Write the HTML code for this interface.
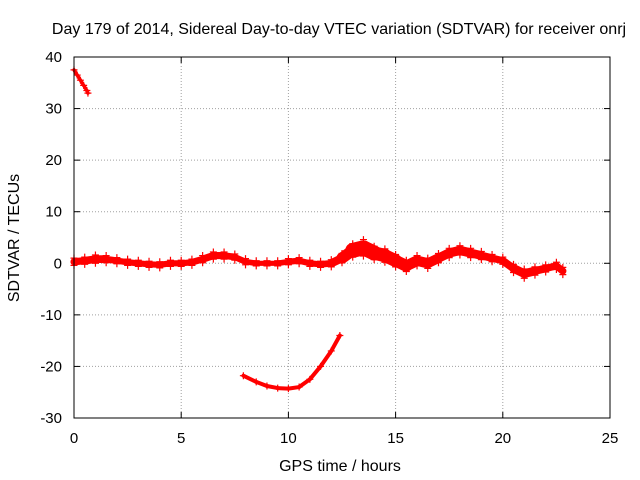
<!DOCTYPE html>
<html><head><meta charset="utf-8"><style>
body{margin:0;background:#fff}
svg{display:block;font-family:"Liberation Sans",sans-serif}
</style></head><body>
<svg id="chart" width="640" height="480">
<text x="339" y="34" font-size="16" text-anchor="middle">Day 179 of 2014, Sidereal Day-to-day VTEC variation (SDTVAR) for receiver onrj</text>
<text x="340" y="471" font-size="16" text-anchor="middle">GPS time / hours</text>
<text transform="translate(19,238) rotate(-90)" font-size="16" text-anchor="middle">SDTVAR / TECUs</text>
<g id="grid"></g>
<g id="ticks"></g>
<g id="series"></g>
<rect x="74" y="57" width="536" height="361" fill="none" stroke="#000" stroke-width="1"/>
</svg>
<script>
const xTicks=[0,5,10,15,20,25];
const yTicks=[40,30,20,10,0,-10,-20,-30];
const seg1T=[0,0.15,0.3,0.45,0.6,0.65];
const seg1V=[37.5,36.5,35.5,34.5,33.5,33];
const mainT=[0,0.5,1,1.5,2,2.5,3,3.5,4,4.5,5,5.5,6,6.5,7,7.5,8,8.5,9,9.5,10,10.5,11,11.5,12,12.5,13,13.5,14,14.5,15,15.5,16,16.5,17,17.5,18,18.5,19,19.5,20,20.5,21,21.5,22,22.5,22.8];
const mainV=[0.3,0.5,0.8,0.8,0.5,0.2,0,-0.2,-0.3,0,0,0.2,0.8,1.5,1.5,1.2,0.3,0,0,0,0.3,0.5,0,-0.2,0,1,2.5,3,2,1.5,0.5,-0.5,0.5,0,1,2,2.5,2,1.5,1,0.5,-1,-2,-1.5,-1,-0.5,-1.5];
const mainW=[0.7,0.7,0.8,0.7,0.6,0.6,0.6,0.6,0.6,0.6,0.6,0.6,0.7,0.7,0.7,0.6,0.6,0.5,0.5,0.5,0.6,0.6,0.6,0.6,0.7,0.9,1.3,1.6,1.3,1.3,1.2,1.1,1,1,0.9,0.9,0.9,0.9,0.8,0.7,0.7,0.8,0.9,0.8,0.7,0.7,0.7];
const seg3T=[7.9,8.5,9,9.5,10,10.5,11,11.5,12,12.4];
const seg3V=[-21.8,-23,-23.8,-24.2,-24.3,-24,-22.5,-20,-17,-14];
const NS="http://www.w3.org/2000/svg";
const X=t=>74+t*(536/25), Y=v=>57+(40-v)*(361/70);
function mk(tag,attrs,parent){const e=document.createElementNS(NS,tag);for(const k in attrs)e.setAttribute(k,attrs[k]);parent.appendChild(e);return e;}
const grid=document.getElementById('grid'),ticks=document.getElementById('ticks'),ser=document.getElementById('series');
xTicks.forEach(t=>{
 if(t>0&&t<25){const l=mk('line',{x1:X(t),x2:X(t),y1:57,y2:418,stroke:'#a0a0a0','stroke-dasharray':'1,2'},grid);
 }
 mk('line',{x1:X(t),x2:X(t),y1:418,y2:412,stroke:'#000'},ticks);
 mk('line',{x1:X(t),x2:X(t),y1:57,y2:63,stroke:'#000'},ticks);
 const tx=mk('text',{x:X(t),y:443,'font-size':15,'text-anchor':'middle'},ticks);tx.textContent=t;
 
});
yTicks.forEach(v=>{
 if(v<40&&v>-30){const l=mk('line',{x1:74,x2:610,y1:Y(v),y2:Y(v),stroke:'#a0a0a0','stroke-dasharray':'1,2'},grid);
 }
 mk('line',{x1:74,x2:80,y1:Y(v),y2:Y(v),stroke:'#000'},ticks);
 mk('line',{x1:610,x2:604,y1:Y(v),y2:Y(v),stroke:'#000'},ticks);
 const tx=mk('text',{x:62,y:Y(v)+5,'font-size':15,'text-anchor':'end'},ticks);tx.textContent=v;
 
});
function plus(t,v){const p=mk('path',{d:`M${X(t)-3.5},${Y(v)}h7M${X(t)},${Y(v)-3.5}v7`,stroke:'#f00','stroke-width':1.2,fill:'none'},ser);
 }
function thickLine(T,V,w){for(let i=0;i<T.length-1;i++){
 const l=mk('line',{x1:X(T[i]),y1:Y(V[i]),x2:X(T[i+1]),y2:Y(V[i+1]),stroke:'#f00','stroke-width':w(i),'stroke-linecap':'round'},ser);
 }}
thickLine(seg1T,seg1V,()=>3.5);
thickLine(seg3T,seg3V,()=>4);
thickLine(mainT,mainV,i=>Math.max(3.5,(mainW[i]+mainW[i+1])*361/70));
seg1T.forEach((t,i)=>plus(t,seg1V[i]));
seg3T.forEach((t,i)=>plus(t,seg3V[i]));
mainT.forEach((t,i)=>{plus(t,mainV[i]+mainW[i]);plus(t,mainV[i]-mainW[i]);});
</script>
</body></html>
